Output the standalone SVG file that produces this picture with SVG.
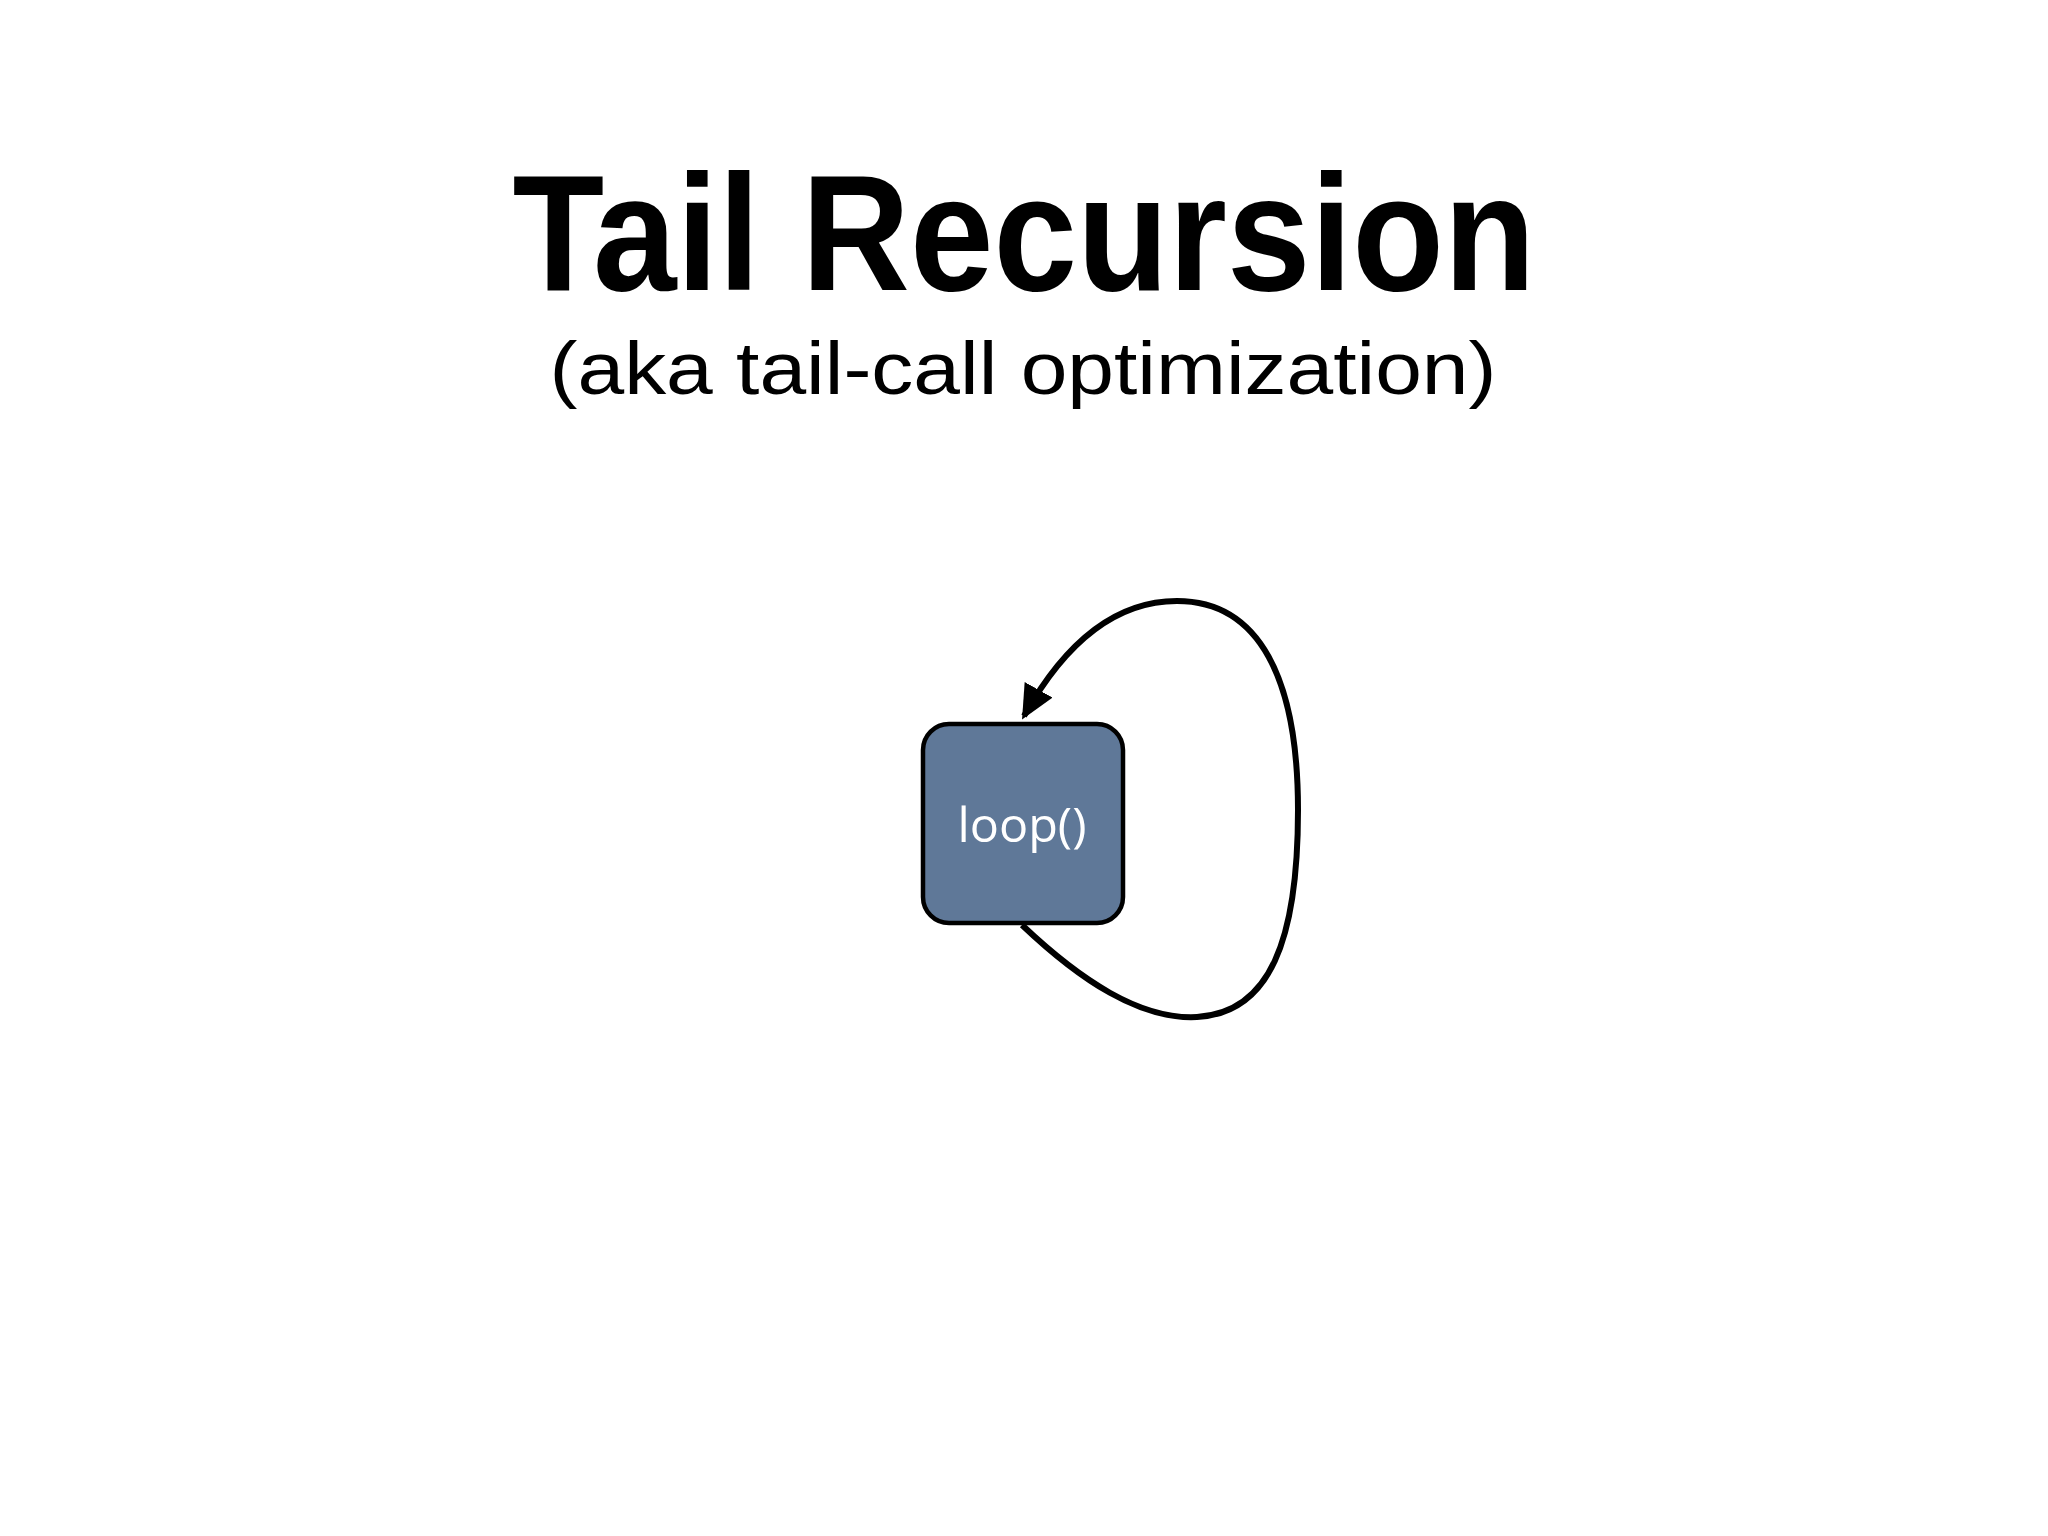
<svg xmlns="http://www.w3.org/2000/svg" width="2048" height="1536" viewBox="0 0 2048 1536">
  <style>
    .title { font-family: "Liberation Sans", "Open Sans", sans-serif; font-weight: 700; font-size: 166px; fill: #000; }
    .sub { font-family: "Liberation Sans", "Open Sans", sans-serif; font-weight: 400; font-size: 74px; fill: #000; }
    .node { fill: #5f7898; stroke: #000; stroke-width: 4.5; }
    .label { font-family: "Open Sans", "Liberation Sans", sans-serif; font-size: 48px; fill: #fff; }
    .edge { fill: none; stroke: #000; stroke-width: 6; }
  </style>
  <defs>
    <marker id="arrow" markerUnits="userSpaceOnUse" markerWidth="44" markerHeight="44" refX="30" refY="16" orient="auto">
      <path d="M0,0 L34,16 L0,32 Z" fill="#000"/>
    </marker>
  </defs>
  <rect width="2048" height="1536" fill="#fff"/>
  <g id="title">
    <text class="title" x="1024" y="290" text-anchor="middle" textLength="1023" lengthAdjust="spacingAndGlyphs">Tail Recursion</text>
    <text class="sub" x="1023" y="394" text-anchor="middle" textLength="947" lengthAdjust="spacingAndGlyphs">(aka tail-call optimization)</text>
  </g>
  <g id="connectors">
    <path class="edge" marker-end="url(#arrow)" d="M1022,925 C1080,980 1140,1020 1197,1017 C1270,1013 1298,940 1298,810 C1298,680 1260,601 1177,601 C1112,601 1062,648 1024,716"/>
  </g>
  <g id="node-loop">
    <rect class="node" x="923" y="724" width="200" height="199" rx="26" ry="26"/>
    <text class="label" x="1022" y="842" text-anchor="middle" textLength="129" lengthAdjust="spacingAndGlyphs">loop()</text>
  </g>
</svg>
